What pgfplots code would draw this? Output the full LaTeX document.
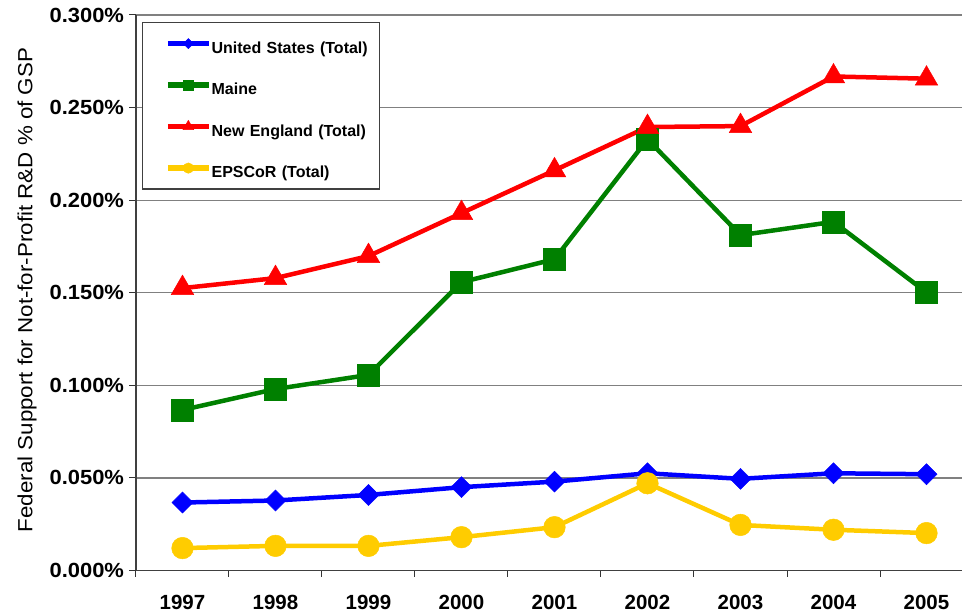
\documentclass[border=0pt]{standalone}
\usepackage{fontspec}
\setmainfont{Liberation Sans}
\newfontfamily\labelfont[FakeStretch=1.09]{Liberation Sans}
\newfontfamily\ytickfont[FakeStretch=1.07]{Liberation Sans}
\usepackage{pgfplots}
\pgfplotsset{compat=1.18}
\definecolor{usblue}{RGB}{0,0,255}
\definecolor{mgreen}{RGB}{0,128,0}
\definecolor{nered}{RGB}{255,0,0}
\definecolor{epyel}{RGB}{255,204,0}
\definecolor{gridgray}{RGB}{128,128,128}
\begin{document}
\begin{tikzpicture}
\useasboundingbox (0,0) rectangle (962pt,615pt);
\begin{axis}[
  at={(136pt,44.5pt)}, anchor=south west,
  scale only axis, width=837pt, height=555.5pt,
  xmin=-0.5, xmax=8.5, ymin=0, ymax=0.3,
  axis x line*=bottom, axis y line*=left,
  axis line style={line width=1.2pt, black!75},
  xtick={-0.5,0.5,1.5,2.5,3.5,4.5,5.5,6.5,7.5,8.5},
  xticklabels={1997,1998,1999,2000,2001,2002,2003,2004,2005},
  x tick label as interval=true,
  xticklabel shift=15pt,
  ytick={0,0.05,0.1,0.15,0.2,0.25,0.3},
  yticklabel={\pgfmathprintnumber[fixed,fixed zerofill,precision=3]{\tick}\%},
  yticklabel shift=2pt,
  /pgf/number format/assume math mode=true,
  x tick label style={font=\bfseries\fontsize{20.5}{24}\selectfont},
  y tick label style={font=\ytickfont\bfseries\fontsize{20.5}{24}\selectfont},
  tick align=outside, major tick length=6.5pt,
  tick style={black!80, line width=1pt},
  ymajorgrids, grid style={gridgray, line width=1.3pt},
  ylabel={Federal Support for Not-for-Profit R\&D \% of GSP},
  every axis y label/.style={at={(rel axis cs:0,0.505)}, xshift=-109pt, rotate=90, anchor=center, font=\labelfont\fontsize{20.5}{24}\selectfont},
  legend image code/.code={
    \path (-23pt,0pt) (41pt,0pt);
    \draw[#1, line width=5.5pt] (0pt,0pt) -- (41pt,0pt);
    \draw[#1, every mark/.append style={scale=0.48}] plot coordinates {(20.5pt,0pt)};
  },
  legend style={at={(0,1)}, anchor=north west, xshift=6pt, yshift=-7pt,
    draw=black!75, line width=1.2pt, fill=white,
    inner xsep=0pt, inner ysep=0pt, row sep=-0.5pt, column sep=0pt,
    font=\bfseries\fontsize{16}{19}\selectfont,
    nodes={inner sep=0pt, text width=168pt, text height=30.8pt, text depth=11.2pt}},
  legend cell align=left,
]
\addplot[color=usblue, line width=4.5pt, mark=square*, mark size=7.4pt, mark options={rotate=45, line width=0.5pt}]
  coordinates {(0,0.0367) (1,0.0378) (2,0.0408) (3,0.0450) (4,0.0480) (5,0.0525) (6,0.0495) (7,0.0525) (8,0.0520)};
\addlegendentry{United States (Total)}
\addplot[color=mgreen, line width=4.5pt, mark=square*, mark size=11pt, mark options={line width=0.5pt}]
  coordinates {(0,0.0867) (1,0.0980) (2,0.1056) (3,0.1557) (4,0.1681) (5,0.2329) (6,0.1811) (7,0.1883) (8,0.1502)};
\addlegendentry{Maine}
\addplot[color=nered, line width=4.5pt, mark=triangle*, mark size=13pt, mark options={line width=0.5pt}]
  coordinates {(0,0.1525) (1,0.1579) (2,0.1698) (3,0.1930) (4,0.2161) (5,0.2395) (6,0.2400) (7,0.2668) (8,0.2656)};
\addlegendentry{New England (Total)}
\addplot[color=epyel, line width=4.5pt, mark=*, mark size=10.8pt, mark options={line width=0.5pt}]
  coordinates {(0,0.0121) (1,0.0133) (2,0.0133) (3,0.0180) (4,0.0234) (5,0.0471) (6,0.0246) (7,0.0220) (8,0.0202)};
\addlegendentry{EPSCoR (Total)}
\end{axis}
\end{tikzpicture}
\end{document}
